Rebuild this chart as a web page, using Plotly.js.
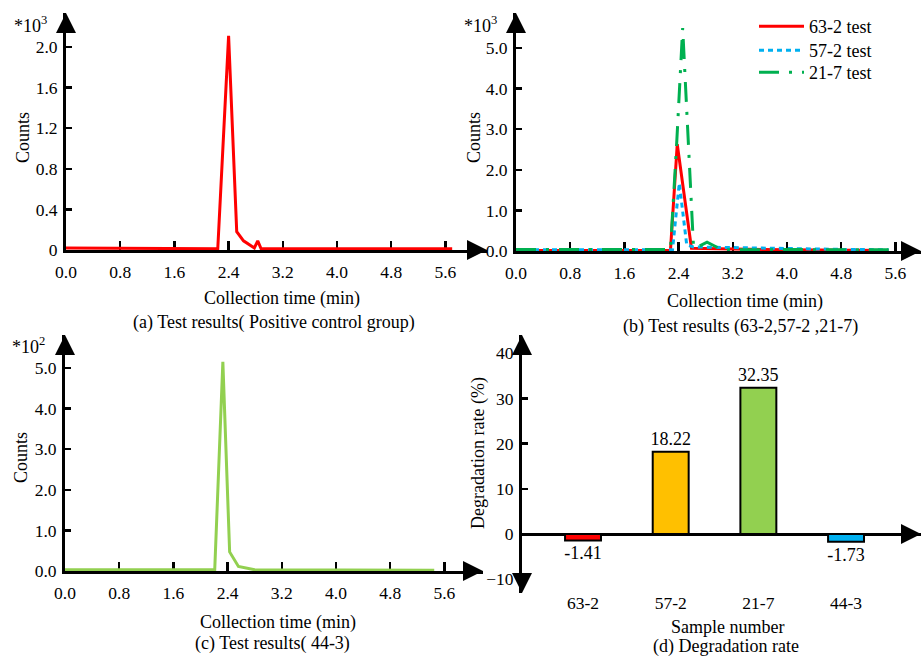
<!DOCTYPE html>
<html>
<head>
<meta charset="utf-8">
<script src="https://cdn.plot.ly/plotly-3.0.1.min.js"></script>
<style>html,body{margin:0;padding:0;background:#fff;}#chart{width:923px;height:657px;}</style>
</head>
<body>
<div id="chart"></div>
<script>
// ---------- data ----------
// (a) positive control group, counts x10^3
const timeA   = [0, 2.24, 2.40, 2.52, 2.62, 2.78, 2.83, 2.88, 5.70];
const countsA = [0.02, 0.012, 2.11, 0.18, 0.09, 0.02, 0.09, 0.012, 0.012];

// (b) 63-2, 57-2, 21-7, counts x10^3
const time632   = [0, 2.28, 2.38, 2.59, 3.2, 4.0, 5.5];
const counts632 = [0.015, 0.015, 2.63, 0.07, 0.05, 0.03, 0.012];
const time572   = [0, 2.31, 2.41, 2.52, 2.62, 3.2, 4.0, 4.8, 5.5];
const counts572 = [0.03, 0.03, 1.67, 0.15, 0.10, 0.08, 0.07, 0.04, 0.03];
const time217   = [0, 2.28, 2.37, 2.46, 2.62, 2.66, 2.82, 3.04, 4.0, 5.5];
const counts217 = [0.04, 0.04, 2.60, 5.49, 0.10, 0.08, 0.22, 0.03, 0.035, 0.03];

// (c) 44-3, counts x10^2
const timeC   = [0, 2.21, 2.33, 2.43, 2.56, 2.80, 5.45];
const countsC = [0.03, 0.03, 5.15, 0.47, 0.11, 0.03, 0.02];

// (d) degradation rate
const samples = ['63-2', '57-2', '21-7', '44-3'];
const degradation = [-1.41, 18.22, 32.35, -1.73];
const barColors = ['#ff0000', '#ffc000', '#92d050', '#00b0f0'];

const xTicks = [0, 0.8, 1.6, 2.4, 3.2, 4.0, 4.8, 5.6];
const yTicksA = [0, 0.4, 0.8, 1.2, 1.6, 2.0];
const yTickTextA = ['0', '0.4', '0.8', '1.2', '1.6', '2.0'];
const yTicksB = [0, 1, 2, 3, 4, 5];
const yTickTextB = ['0.0', '1.0', '2.0', '3.0', '4.0', '5.0'];
const yTicksD = [-10, 0, 10, 20, 30, 40];

// ---------- layout helpers ----------
const W = 923, H = 657;
const px = v => v / W;
const py = v => 1 - v / H;
const FONT = '"Liberation Serif", "Times New Roman", serif';

const traces = [
  {x: timeA, y: countsA, xaxis: 'x', yaxis: 'y', mode: 'lines', showlegend: false,
   line: {color: '#ff0000', width: 3}},
  {x: time632, y: counts632, xaxis: 'x2', yaxis: 'y2', mode: 'lines', name: '63-2 test',
   legend: 'legend', line: {color: '#ff0000', width: 3}},
  {x: time572, y: counts572, xaxis: 'x2', yaxis: 'y2', mode: 'lines', name: '57-2 test',
   legend: 'legend2', line: {color: '#00b0f0', width: 3, dash: '5px,4px'}},
  {x: time217, y: counts217, xaxis: 'x2', yaxis: 'y2', mode: 'lines', name: '21-7 test',
   legend: 'legend3', line: {color: '#00b050', width: 3, dash: '20px,10px,3px,10px'}},
  {x: timeC, y: countsC, xaxis: 'x3', yaxis: 'y3', mode: 'lines', showlegend: false,
   line: {color: '#92d050', width: 3}},
  {x: samples, y: degradation, xaxis: 'x4', yaxis: 'y4', type: 'bar', showlegend: false,
   width: 0.41, marker: {color: barColors, line: {color: '#000', width: 2}},
   text: degradation.map(v => v.toFixed(2)), textposition: 'outside', cliponaxis: false,
   constraintext: 'none', textfont: {family: FONT, size: 18, color: '#000'}}
];

function timeAxis(d0, d1, r1, anchor) {
  return {domain: [px(d0), px(d1)], range: [0, r1], anchor: anchor,
    tickvals: xTicks, tickformat: '.1f', ticks: 'inside', ticklen: 9, tickwidth: 2.5,
    tickcolor: '#000', showline: true, linecolor: '#000', linewidth: 3,
    showgrid: false, zeroline: false, layer: 'below traces', ticklabelstandoff: 4,
    tickfont: {family: FONT, size: 17.5, color: '#000'}, fixedrange: true};
}
function countAxis(top, bottom, r1, vals, txt, anchor) {
  return {domain: [py(bottom), py(top)], range: [0, r1], anchor: anchor,
    tickvals: vals, ticktext: txt, ticks: 'inside', ticklen: 6, tickwidth: 2.5,
    tickcolor: '#000', showline: true, linecolor: '#000', linewidth: 3,
    showgrid: false, zeroline: false, layer: 'below traces', ticklabelstandoff: 2,
    tickfont: {family: FONT, size: 17.5, color: '#000'}, fixedrange: true};
}

function arrow(x, y, ax, ay) {
  return {x: px(x), y: py(y), xref: 'paper', yref: 'paper', text: '', showarrow: true,
    arrowhead: 2, arrowsize: 1.6, arrowwidth: 2.5, arrowcolor: '#000',
    ax: ax, ay: ay, axref: 'pixel', ayref: 'pixel', standoff: 0};
}
function label(text, x, y, opts) {
  return Object.assign({x: px(x), y: py(y), xref: 'paper', yref: 'paper', text: text,
    showarrow: false, xanchor: 'center', yanchor: 'middle',
    font: {family: FONT, size: 18, color: '#000'}}, opts || {});
}
function legendBox(top) {
  return {x: px(754), y: py(top), xanchor: 'left', yanchor: 'top',
    bgcolor: 'rgba(0,0,0,0)', font: {family: FONT, size: 18, color: '#000'},
    tracegroupgap: 0, itemwidth: 45};
}

const layout = {
  width: W, height: H,
  margin: {l: 0, r: 0, t: 0, b: 0},
  paper_bgcolor: '#fff', plot_bgcolor: 'rgba(0,0,0,0)',
  font: {family: FONT, size: 18, color: '#000'},
  xaxis:  timeAxis(66, 487, (487 - 66) / 67.75, 'y'),
  yaxis:  countAxis(13, 250, (250 - 13) / 101.5, yTicksA, yTickTextA, 'x'),
  xaxis2: timeAxis(516, 921, (921 - 516) / 67.75, 'y2'),
  yaxis2: countAxis(13, 251, (251 - 13) / 40.6, yTicksB, yTickTextB, 'x2'),
  xaxis3: timeAxis(65, 483, (483 - 65) / 67.75, 'y3'),
  yaxis3: countAxis(335, 571, (571 - 335) / 40.6, yTicksB, yTickTextB, 'x3'),
  xaxis4: {domain: [px(522), px(921)], range: [-0.696, 3.855], anchor: 'y4', type: 'category',
    showline: false, ticks: '', showgrid: false, zeroline: false, ticklabelstandoff: -3,
    tickfont: {family: FONT, size: 17.5, color: '#000'}, fixedrange: true},
  yaxis4: {domain: [py(593), py(335)], range: [-13.05, 44.03], anchor: 'x4',
    tickvals: yTicksD, ticks: 'inside', ticklen: 6, tickwidth: 2.5, tickcolor: '#000',
    showline: true, linecolor: '#000', linewidth: 3, showgrid: false,
    zeroline: true, zerolinecolor: '#000', zerolinewidth: 3, ticklabelstandoff: 2,
    tickfont: {family: FONT, size: 17.5, color: '#000'}, fixedrange: true},
  legend: legendBox(8),
  legend2: legendBox(32),
  legend3: legendBox(54),
  annotations: [
    // panel (a)
    label('*10<sup>3</sup>', 12, 24, {xanchor: 'left'}),
    label('Counts', 23, 138, {textangle: -90}),
    label('Collection time (min)', 282, 299),
    label('(a) Test results( Positive control group)', 274, 323),
    arrow(66, 13, 0, 14), arrow(487, 250, -14, 0),
    // panel (b)
    label('*10<sup>3</sup>', 462, 24, {xanchor: 'left'}),
    label('Counts', 474, 138, {textangle: -90}),
    label('Collection time (min)', 745, 301),
    label('(b) Test results (63-2,57-2 ,21-7)', 740, 326),
    arrow(516, 13, 0, 14), arrow(921, 251, -14, 0),
    // panel (c)
    label('*10<sup>2</sup>', 10, 345, {xanchor: 'left'}),
    label('Counts', 21, 458, {textangle: -90}),
    label('Collection time (min)', 278, 622),
    label('(c) Test results( 44-3)', 272, 643),
    arrow(65, 335, 0, 14), arrow(483, 571, -14, 0),
    // panel (d)
    label('Degradation rate (%)', 478, 453, {textangle: -90}),
    label('Sample number', 727, 627),
    label('(d) Degradation rate', 726, 646),
    arrow(522, 335, 0, 14), arrow(522, 593, 0, -14), arrow(921, 534, -14, 0)
  ]
};

Plotly.newPlot('chart', traces, layout, {displayModeBar: false, staticPlot: true});
</script>
</body>
</html>
